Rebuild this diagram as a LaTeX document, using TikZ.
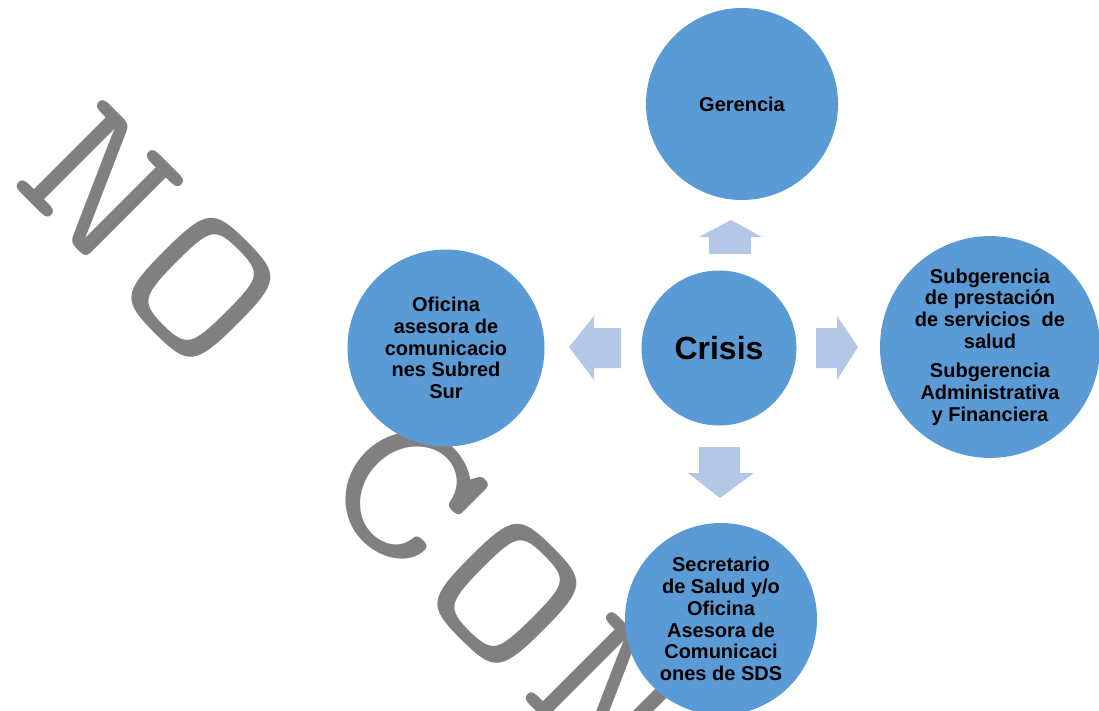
\documentclass[tikz,border=0pt]{standalone}
\usepackage{fontspec}
\setmainfont{Liberation Sans}
\usetikzlibrary{shapes.geometric}
\definecolor{circblue}{RGB}{91,155,213}
\definecolor{arrblue}{RGB}{180,199,231}
\definecolor{wmgray}{RGB}{128,128,128}
\begin{document}
\begin{tikzpicture}[x=1pt,y=-1pt,
  bubble/.style={circle, fill=circblue, inner sep=0pt, align=center, text=black,
    font=\bfseries\fontsize{20}{21.7}\selectfont},
  wm/.style={text=wmgray, inner sep=0pt, rotate=-45, xscale=1.25,
    font=\ttfamily\fontsize{205}{205}\selectfont},
  blockarrow/.style={fill=arrblue}]
\useasboundingbox (0,0) rectangle (1099,711);
\clip (0,0) rectangle (1099,711);
% watermark
\node[wm] (w1) at (100,184) {N};
\node[wm] (w2) at (201,288) {O};
\node[wm] (w3) at (405,492) {C};
\node[wm] (w4) at (507,594) {O};
\node[wm] (w5) at (609,696) {N};
% bubbles
\node[bubble, minimum size=192pt] (ger) at (742,104) {Gerencia};
\node[bubble, minimum size=155pt, font=\bfseries\fontsize{32}{36}\selectfont] (crisis) at (719,348) {Crisis};
\node[bubble, minimum size=197pt] (ofi) at (446,348) {Oficina\\asesora de\\comunicacio\\nes Subred\\Sur};
\node[bubble, ellipse, minimum width=220pt, minimum height=203pt] (sub) at (990,347)
  {Subgerencia\\de prestación\\de servicios~ de\\salud\\[8pt]Subgerencia\\Administrativa\\y Financiera};
\node[bubble, minimum size=192pt] (sec) at (721,619) {Secretario\\de Salud y/o\\Oficina\\Asesora de\\Comunicaci\\ones de SDS};
% block arrows
\fill[blockarrow] (709,254) -- (709,237) -- (699,237) -- (731,220) -- (762,237) -- (751,237) -- (751,254) -- cycle;
\fill[blockarrow] (621,328) -- (594,328) -- (594,316) -- (569,347) -- (594,380) -- (594,368) -- (621,368) -- cycle;
\fill[blockarrow] (816,328) -- (837,328) -- (837,316) -- (858,347) -- (837,380) -- (837,368) -- (816,368) -- cycle;
\fill[blockarrow] (699,447) -- (740,447) -- (740,473) -- (754,473) -- (720,498) -- (688,473) -- (699,473) -- cycle;
\end{tikzpicture}
\end{document}
